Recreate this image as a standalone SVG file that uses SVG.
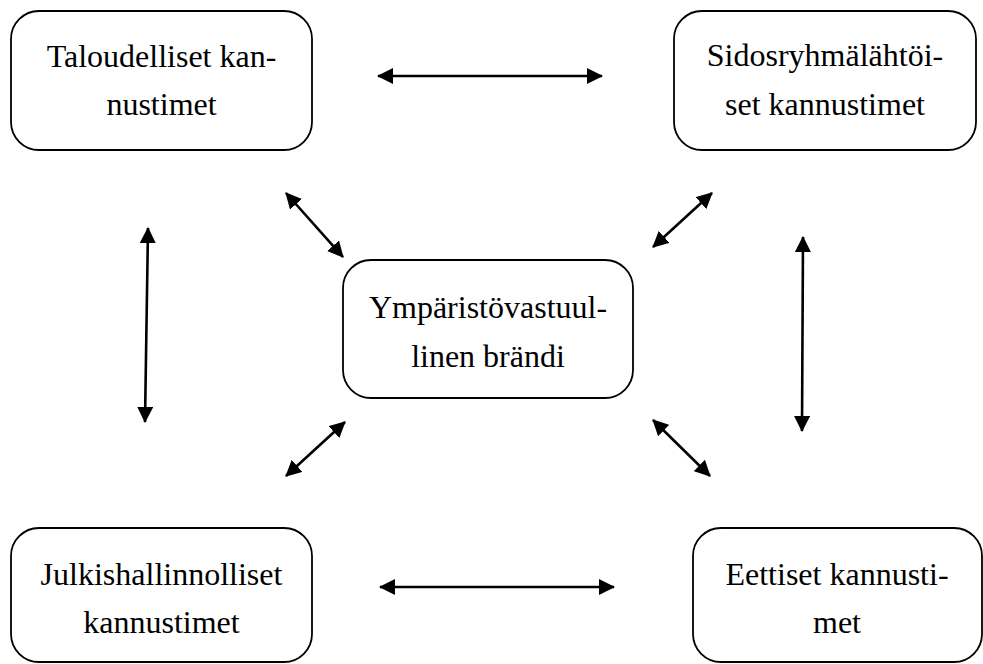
<svg xmlns="http://www.w3.org/2000/svg" width="983" height="664" viewBox="0 0 983 664">
  <style>
    .box { fill: #ffffff; stroke: #000000; stroke-width: 1.8; }
    .lbl { font-family: 'Liberation Serif', 'DejaVu Serif', 'Times New Roman', serif; font-size: 32px; fill: #000000; text-anchor: middle; }
    .link { stroke: #000000; stroke-width: 2.6; fill: none; marker-start: url(#head); marker-end: url(#head); }
  </style>
  <defs>
    <marker id="head" viewBox="0 0 16 16" refX="15" refY="8" markerWidth="16" markerHeight="16" markerUnits="userSpaceOnUse" orient="auto-start-reverse">
      <path d="M0,0 L16,8 L0,16 Z" fill="#000000"/>
    </marker>
  </defs>
  <rect width="983" height="664" fill="#ffffff"/>

  <g id="taloudelliset">
    <rect class="box" x="11" y="11" width="301" height="139" rx="28" ry="28"/>
    <text class="lbl" font-family="Liberation Serif, serif" x="161.5" y="67">Taloudelliset kan-</text>
    <text class="lbl" font-family="Liberation Serif, serif" x="161.5" y="115">nustimet</text>
  </g>

  <g id="sidosryhmalahtoiset">
    <rect class="box" x="674" y="11" width="302" height="139" rx="28" ry="28"/>
    <text class="lbl" font-family="Liberation Serif, serif" x="825" y="66">Sidosryhmälähtöi-</text>
    <text class="lbl" font-family="Liberation Serif, serif" x="825" y="115">set kannustimet</text>
  </g>

  <g id="ymparistovastuullinen">
    <rect class="box" x="343" y="260" width="290" height="138" rx="28" ry="28"/>
    <text class="lbl" font-family="Liberation Serif, serif" x="488" y="318">Ympäristövastuul-</text>
    <text class="lbl" font-family="Liberation Serif, serif" x="488" y="367">linen brändi</text>
  </g>

  <g id="julkishallinnolliset">
    <rect class="box" x="11" y="528" width="301" height="134" rx="28" ry="28"/>
    <text class="lbl" font-family="Liberation Serif, serif" x="161.5" y="585">Julkishallinnolliset</text>
    <text class="lbl" font-family="Liberation Serif, serif" x="161.5" y="633">kannustimet</text>
  </g>

  <g id="eettiset">
    <rect class="box" x="693" y="528" width="289" height="134" rx="28" ry="28"/>
    <text class="lbl" font-family="Liberation Serif, serif" x="837" y="585">Eettiset kannusti-</text>
    <text class="lbl" font-family="Liberation Serif, serif" x="837" y="633">met</text>
  </g>

  <g id="connectors">
    <line class="link" x1="378" y1="76" x2="602" y2="76"/>
    <line class="link" x1="380" y1="587" x2="614" y2="587"/>
    <line class="link" x1="148" y1="228" x2="145" y2="422"/>
    <line class="link" x1="803" y1="237" x2="802" y2="431"/>
    <line class="link" x1="286" y1="193" x2="343" y2="257"/>
    <line class="link" x1="712" y1="193" x2="653" y2="247"/>
    <line class="link" x1="345" y1="422" x2="286" y2="476"/>
    <line class="link" x1="653" y1="420" x2="710" y2="476"/>
  </g>
</svg>
